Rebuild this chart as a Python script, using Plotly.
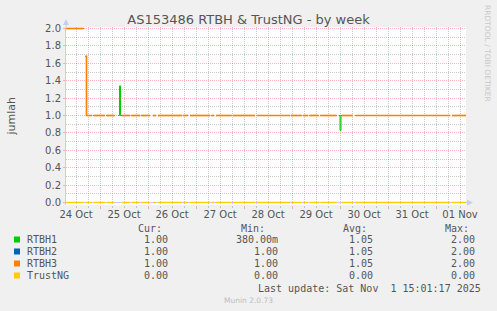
import plotly.graph_objects as go
import pandas as pd

# ---------------- data ----------------
series_names = ["RTBH1", "RTBH2", "RTBH3", "TrustNG"]
series_colors = ["#00CC00", "#0066B3", "#FF8000", "#FFCC00"]
series_widths = [1.0, 1.0, 1.7, 1.4]
draw_order = [0, 1, 3, 2]  # orange RTBH3 ends up on top

# common RTBH segments (start, end, value) – gaps between them are missing data
seg_start = ["2025-10-24 07:00", "2025-10-24 16:45", "2025-10-24 17:15", "2025-10-24 20:45",
             "2025-10-25 03:15", "2025-10-25 11:00", "2025-10-25 15:45", "2025-10-25 20:30",
             "2025-10-26 02:30", "2025-10-26 05:00", "2025-10-26 17:30", "2025-10-26 21:00",
             "2025-10-27 07:45", "2025-10-27 10:00", "2025-10-27 18:30", "2025-10-28 06:30",
             "2025-10-28 23:30", "2025-10-29 05:30", "2025-10-29 08:45", "2025-10-29 14:15",
             "2025-10-30 01:00", "2025-10-30 07:45", "2025-11-01 08:00"]
seg_end = ["2025-10-24 15:45", "2025-10-24 17:15", "2025-10-24 20:00", "2025-10-25 02:30",
           "2025-10-25 07:15", "2025-10-25 15:00", "2025-10-25 20:00", "2025-10-26 01:00",
           "2025-10-26 04:00", "2025-10-26 17:00", "2025-10-26 20:00", "2025-10-27 07:00",
           "2025-10-27 09:00", "2025-10-27 17:45", "2025-10-28 05:30", "2025-10-28 23:00",
           "2025-10-29 04:45", "2025-10-29 08:00", "2025-10-29 13:30", "2025-10-29 22:15",
           "2025-10-30 06:30", "2025-11-01 07:00", "2025-11-01 15:00"]
rtbh_values = [2.0, 1.68, 1.0, 1.0, 1.0, 1.0, 1.0, 1.0, 1.0, 1.0, 1.0, 1.0,
               1.0, 1.0, 1.0, 1.0, 1.0, 1.0, 1.0, 1.0, 1.0, 1.0, 1.0]
trustng_values = [0.0] * len(seg_start)

# extra RTBH1-only segments (spike and dip)
rtbh1_extra_start = ["2025-10-25 09:00", "2025-10-25 09:45", "2025-10-25 10:15",
                     "2025-10-29 23:30", "2025-10-30 00:00", "2025-10-30 00:30"]
rtbh1_extra_end = ["2025-10-25 09:45", "2025-10-25 10:15", "2025-10-25 11:00",
                   "2025-10-30 00:00", "2025-10-30 00:30", "2025-10-30 01:00"]
rtbh1_extra_values = [1.0, 1.34, 1.0, 1.0, 0.83, 1.0]

# legend statistics
stat_cur = ["1.00", "1.00", "1.00", "0.00"]
stat_min = ["380.00m", "1.00", "1.00", "0.00"]
stat_avg = ["1.05", "1.05", "1.05", "0.00"]
stat_max = ["2.00", "2.00", "2.00", "0.00"]

x_range = ["2025-10-24 07:00", "2025-11-01 15:00"]
last_update = "Last update: Sat Nov \u00a01 15:01:17 2025"


def build(starts, ends, vals):
    """Step line: horizontal runs, vertical joins between touching runs, gaps elsewhere."""
    order = sorted(range(len(starts)), key=lambda i: pd.Timestamp(starts[i]))
    s = [starts[i] for i in order]
    e = [ends[i] for i in order]
    v = [vals[i] for i in order]
    xs, ys = [], []
    for i in range(len(s)):
        xs += [s[i], e[i]]
        ys += [v[i], v[i]]
        if i + 1 < len(s) and s[i + 1] == e[i]:
            continue
        xs.append(None); ys.append(None)
    return xs, ys


series_xy = [
    build(seg_start + rtbh1_extra_start, seg_end + rtbh1_extra_end, rtbh_values + rtbh1_extra_values),
    build(seg_start, seg_end, rtbh_values),
    build(seg_start, seg_end, rtbh_values),
    build(seg_start, seg_end, trustng_values),
]

# ---------------- layout geometry ----------------
W, H = 497, 311
L, R, T, B = 66, 31, 27, 106
PW, PH = W - L - R, H - T - B
PXU = 87.0  # pixels per unit on the value axis
y_range = [-2.5 / PXU, 2.0 + 1.5 / PXU]


def px(x):
    return (x - L) / PW


def py(y):
    return (H - B - y) / PH


TXT = "#555555"
MAJ = "rgba(255,0,0,0.28)"
MIN = "rgba(150,150,150,0.5)"
AX = "#C8CCF4"

fig = go.Figure()
for i in draw_order:
    xs, ys = series_xy[i]
    fig.add_trace(go.Scatter(x=xs, y=ys, mode="lines", name=series_names[i],
                             line=dict(color=series_colors[i], width=series_widths[i], simplify=False),
                             connectgaps=False, showlegend=False, hoverinfo="skip"))

fig.update_layout(
    width=W, height=H,
    margin=dict(l=L, r=R, t=T, b=B, pad=0),
    paper_bgcolor="#F0F0F0", plot_bgcolor="#FFFFFF",
    title=dict(text="AS153486 RTBH & TrustNG - by week", x=0.5, xref="container",
               y=1 - 19.5 / H, yref="container", yanchor="middle", xanchor="center",
               font=dict(family="DejaVu Sans", size=13, color=TXT)),
    xaxis=dict(type="date", range=x_range, tick0="2025-10-24", dtick=86400000,
               tickformat="%d %b", ticklabelmode="period", ticklabelstandoff=-3,
               showgrid=True, gridcolor=MAJ, griddash="1px,1px", gridwidth=1,
               ticks="outside", ticklen=3, tickcolor=MAJ,
               tickfont=dict(family="DejaVu Sans", size=10, color=TXT),
               showline=False, zeroline=False,
               minor=dict(dtick=6 * 3600 * 1000, showgrid=True, gridcolor=MIN,
                          griddash="1px,1px", ticks="outside", ticklen=2, tickcolor=MIN)),
    yaxis=dict(range=y_range, tick0=0, dtick=0.2, tickformat=".1f",
               showgrid=True, gridcolor=MAJ, griddash="1px,1px", gridwidth=1,
               ticks="outside", ticklen=2, tickcolor=MAJ,
               tickfont=dict(family="DejaVu Sans", size=10, color=TXT),
               zeroline=True, zerolinecolor=AX, zerolinewidth=1,
               showline=True, linecolor=AX, linewidth=1,
               minor=dict(tick0=0.1, dtick=0.2, showgrid=True, gridcolor=MIN, griddash="1px,1px")),
)

ann = []
shapes = []
# y-axis title
ann.append(dict(text="jumlah", x=px(11), y=py(115.5), xref="paper", yref="paper",
                textangle=-90, showarrow=False, xanchor="center", yanchor="middle",
                font=dict(family="DejaVu Sans", size=11, color=TXT)))
# watermark
ann.append(dict(text="RRDTOOL / TOBI OETIKER", x=px(488), y=py(53), xref="paper", yref="paper",
                textangle=90, showarrow=False, xanchor="center", yanchor="middle",
                font=dict(family="DejaVu Sans", size=7.5, color="#C8C8C8")))
# Munin footer
ann.append(dict(text="Munin 2.0.73", x=px(248), y=py(300), xref="paper", yref="paper",
                showarrow=False, xanchor="center", yanchor="middle",
                font=dict(family="DejaVu Sans", size=7.5, color="#BDBDBD")))

MONO = dict(family="DejaVu Sans Mono", size=10, color=TXT)
headers = ["Cur:", "Min:", "Avg:", "Max:"]
header_x = [163, 266, 368, 470]
value_x = [169, 279, 374, 476]
for h, hx in zip(headers, header_x):
    ann.append(dict(text=h, x=px(hx), y=py(228.5), xref="paper", yref="paper", showarrow=False,
                    xanchor="right", yanchor="middle", borderpad=0, font=MONO))
row_y = [239.5, 251.5, 263.5, 275.5]
for i, name in enumerate(series_names):
    ry = row_y[i]
    shapes.append(dict(type="rect", xref="paper", yref="paper",
                       x0=px(14), x1=px(20), y0=py(ry - 3), y1=py(ry + 3),
                       fillcolor=series_colors[i], line=dict(width=0)))
    ann.append(dict(text=name, x=px(26), y=py(ry), xref="paper", yref="paper", showarrow=False,
                    xanchor="left", yanchor="middle", borderpad=0, font=MONO))
    for vals, vx in zip([stat_cur, stat_min, stat_avg, stat_max], value_x):
        ann.append(dict(text=vals[i], x=px(vx), y=py(ry), xref="paper", yref="paper",
                        showarrow=False, xanchor="right", yanchor="middle", borderpad=0, font=MONO))
ann.append(dict(text=last_update, x=px(482), y=py(288), xref="paper", yref="paper",
                showarrow=False, xanchor="right", yanchor="middle", borderpad=0, font=MONO))

# axis arrows
shapes.append(dict(type="line", xref="paper", yref="paper", x0=px(66), x1=px(66),
                   y0=py(27), y1=py(22), line=dict(color=AX, width=1)))
shapes.append(dict(type="path", xref="paper", yref="paper",
                   path=f"M {px(63)},{py(25)} L {px(66)},{py(19)} L {px(69)},{py(25)} Z",
                   fillcolor=AX, line=dict(width=0)))
shapes.append(dict(type="line", xref="paper", yref="paper", x0=px(466), x1=px(468),
                   y0=py(202.5), y1=py(202.5), line=dict(color=AX, width=1)))
shapes.append(dict(type="path", xref="paper", yref="paper",
                   path=f"M {px(467)},{py(199.5)} L {px(473)},{py(202.5)} L {px(467)},{py(205.5)} Z",
                   fillcolor=AX, line=dict(width=0)))

fig.update_layout(annotations=ann, shapes=shapes)
fig.write_html("out.html")
